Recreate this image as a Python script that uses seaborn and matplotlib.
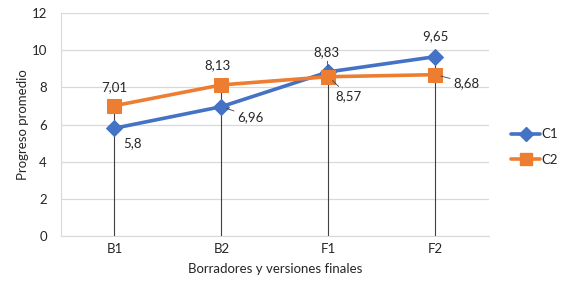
import numpy as np
import pandas as pd
import seaborn as sns
import matplotlib.pyplot as plt
from matplotlib.lines import Line2D

# datos
categorias = ["B1", "B2", "F1", "F2"]
c1 = [5.8, 6.96, 8.83, 9.65]
c2 = [7.01, 8.13, 8.57, 8.68]

sns.set_style("white")
plt.rcParams["font.family"] = ["Lato", "DejaVu Sans"]

azul = "#4472C4"
naranja = "#ED7D31"

df = pd.DataFrame({"cat": categorias * 2,
                   "valor": c1 + c2,
                   "serie": ["C1"] * 4 + ["C2"] * 4})

fig = plt.figure(figsize=(5.64, 2.94), dpi=100)
ax = fig.add_axes([0.108, 0.197, 0.759, 0.759])

# lineas de caida
pos = np.arange(len(categorias))
ax.vlines(pos, 0, np.maximum(c1, c2), color="#404040", lw=0.8, zorder=2)

sns.lineplot(data=df[df.serie == "C1"], x="cat", y="valor", ax=ax, color=azul,
             lw=2.6, marker="D", markersize=8.5, markeredgecolor=azul, zorder=3)
sns.lineplot(data=df[df.serie == "C2"], x="cat", y="valor", ax=ax, color=naranja,
             lw=2.6, marker="s", markersize=10, markeredgecolor=naranja, zorder=4)

ax.set_xlim(-0.5, 3.5)
ax.set_ylim(0, 12)
ax.set_yticks(range(0, 13, 2))
ax.grid(axis="y", color="#d9d9d9", lw=0.9)
ax.set_axisbelow(True)
for s in ["top", "right"]:
    ax.spines[s].set_visible(False)
for s in ["left", "bottom"]:
    ax.spines[s].set_color("#d9d9d9")
ax.tick_params(axis="y", length=4, color="#d9d9d9", labelsize=9.5, pad=6)
ax.tick_params(axis="x", length=0, labelsize=9.5, pad=5)
ax.set_xlabel("Borradores y versiones finales", fontsize=9.5, labelpad=6)
ax.set_ylabel("Progreso promedio", fontsize=9.5, labelpad=2)

def fmt(v):
    return ("%g" % v).replace(".", ",")

# etiquetas (offset en pixeles)
etiq = [
    (0, c2[0], (0, 19), False),
    (0, c1[0], (18, -15), False),
    (1, c2[1], (-4, 20), False),
    (1, c1[1], (29, -10), True),
    (2, c1[2], (-2, 20), True),
    (2, c2[2], (20, -19), True),
    (3, c1[3], (0, 20), False),
    (3, c2[3], (31, -8), True),
]
for x, v, off, lider in etiq:
    ap = dict(arrowstyle="-", color="#404040", lw=0.6, shrinkA=0, shrinkB=4) if lider else None
    ax.annotate(fmt(v), (x, v), xytext=off, textcoords="offset pixels",
                ha="center", va="center", fontsize=9.5, arrowprops=ap, zorder=5)

handles = [Line2D([], [], color=azul, lw=2.6, marker="D", markersize=7),
           Line2D([], [], color=naranja, lw=2.6, marker="s", markersize=8)]
fig.legend(handles, ["C1", "C2"], loc="center left", bbox_to_anchor=(0.885, 0.5),
           frameon=False, fontsize=9.5, handlelength=2.2, handletextpad=0.1,
           labelspacing=1.0)

fig.savefig("out.png", dpi=100)
